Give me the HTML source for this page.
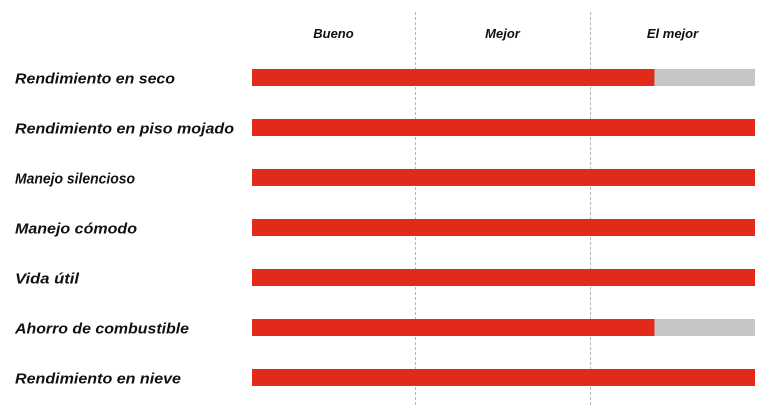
<!DOCTYPE html>
<html><head><meta charset="utf-8">
<style>
html,body{margin:0;padding:0;background:#fff;}
svg{display:block;font-family:"Liberation Sans",sans-serif;}
</style></head>
<body>
<svg id="chart" width="780" height="414" viewBox="0 0 780 414"></svg>
<script>
const categories = ["Rendimiento en seco","Rendimiento en piso mojado","Manejo silencioso","Manejo cómodo","Vida útil","Ahorro de combustible","Rendimiento en nieve"];
const values = [80,100,100,100,100,80,100];
const levelLabels = ["Bueno","Mejor","El mejor"];
const levelBounds = [0,32.4,67.2,100];
const labelWidths = [160,219,120,122,64,174,166];

const NS="http://www.w3.org/2000/svg";
const svg=document.getElementById('chart');
const x0=252,x1=755,maxV=100;
const xs=v=>x0+(x1-x0)*v/maxV;
const rowY=i=>78+i*50;
const barH=17;
function mk(t,a){const e=document.createElementNS(NS,t);for(const k in a)e.setAttribute(k,a[k]);svg.appendChild(e);return e;}

// dividers
for(let i=1;i<levelBounds.length-1;i++){
  const l=mk('line',{x1:xs(levelBounds[i])+0.5,x2:xs(levelBounds[i])+0.5,y1:12,y2:406,stroke:'#b5b5b5','stroke-width':1,'stroke-dasharray':'3,2'});
  
  
}
// level headers
levelLabels.forEach((t,i)=>{
  const cx=(xs(levelBounds[i])+xs(levelBounds[i+1]))/2;
  const e=mk('text',{x:cx,y:38,'text-anchor':'middle','font-size':13,'font-weight':'bold','font-style':'italic',fill:'#111'});
  e.textContent=t;
  
  
});
// rows
categories.forEach((c,i)=>{
  const y=rowY(i);
  const lab=mk('text',{x:15,y:y+5.5,'font-size':15,'font-weight':'bold','font-style':'italic',fill:'#111',textLength:labelWidths[i],lengthAdjust:'spacingAndGlyphs'});
  lab.textContent=c;
  
  
  const bg=mk('rect',{x:x0,y:y-9,width:x1-x0,height:barH,fill:'#c6c6c6'});
  
  
  const b=mk('rect',{x:x0,y:y-9,width:xs(values[i])-x0,height:barH,fill:'#e12a1a'});
  
  
});
</script>
</body></html>
